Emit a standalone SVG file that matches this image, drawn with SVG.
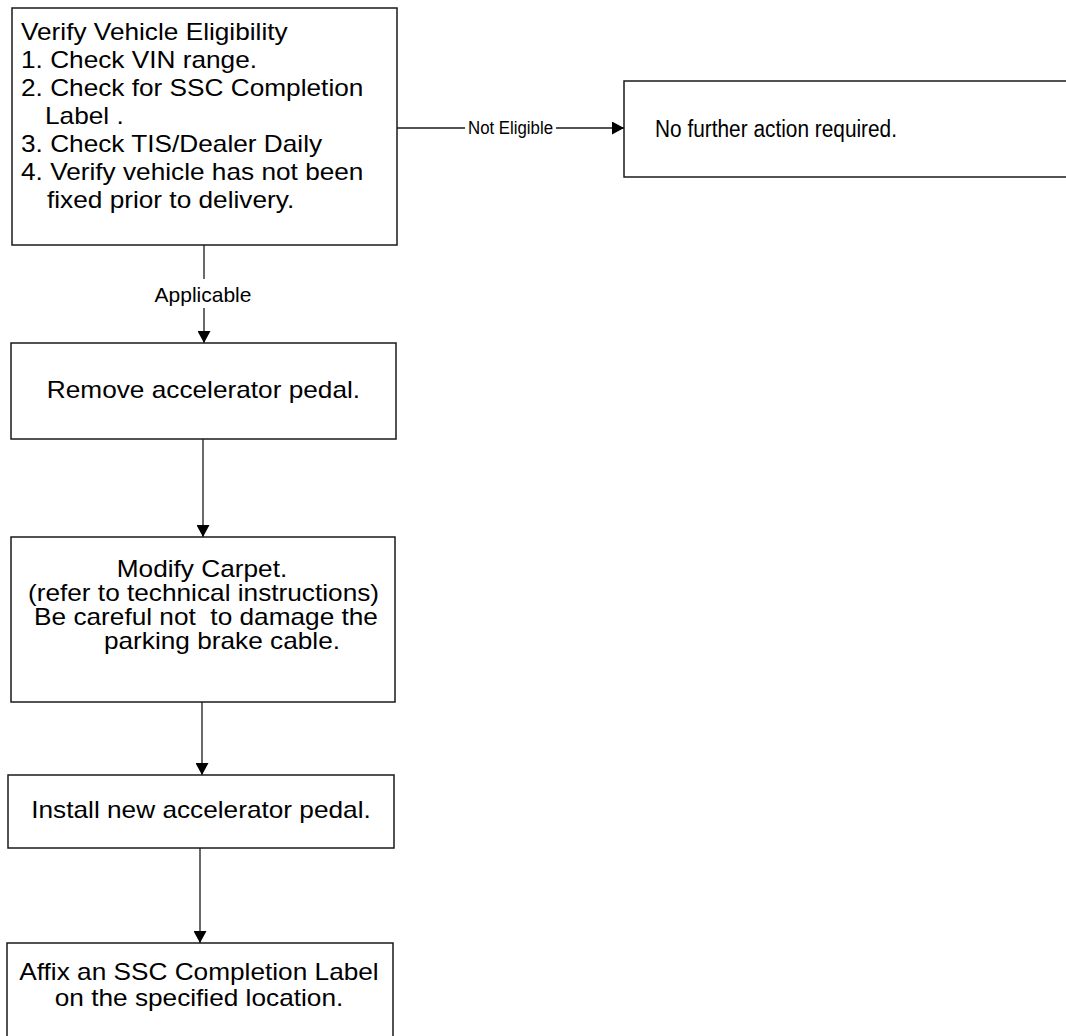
<svg xmlns="http://www.w3.org/2000/svg" width="1066" height="1036" viewBox="0 0 1066 1036">
<style>
.box{fill:#fff;stroke:#1a1a1a;stroke-width:1.5}
.t{font-family:"Liberation Sans",Arial,sans-serif;font-size:23px;fill:#000}
.c{text-anchor:middle}
.lbl{font-family:"Liberation Sans",Arial,sans-serif;fill:#000}
.edge{stroke:#1a1a1a;stroke-width:1.3;fill:none}
</style>
<defs>
<marker id="ah" markerWidth="13" markerHeight="13" refX="12" refY="6.5" orient="auto" markerUnits="userSpaceOnUse">
<path d="M0,0 L12,6.5 L0,13 Z" fill="#000"/>
</marker>
</defs>
<rect width="1066" height="1036" fill="#fff"/>
<g id="connectors">
<line class="edge" x1="397" y1="128" x2="465" y2="128"/>
<line class="edge" x1="556" y1="128" x2="624" y2="128" marker-end="url(#ah)"/>
<text class="lbl" x="468" y="134" font-size="17.5" textLength="85" lengthAdjust="spacingAndGlyphs">Not Eligible</text>
<line class="edge" x1="204" y1="245" x2="204" y2="279"/>
<line class="edge" x1="204" y1="308" x2="204" y2="343" marker-end="url(#ah)"/>
<text class="lbl" x="203" y="302" font-size="21" text-anchor="middle">Applicable</text>
<line class="edge" x1="203" y1="439" x2="203" y2="537" marker-end="url(#ah)"/>
<line class="edge" x1="202" y1="702" x2="202" y2="775" marker-end="url(#ah)"/>
<line class="edge" x1="200" y1="848" x2="200" y2="943" marker-end="url(#ah)"/>
</g>
<g id="verify">
<rect class="box" x="12" y="8" width="385" height="237"/>
<g transform="scale(1.14,1)">
<text class="t" x="18.42" y="40">Verify Vehicle Eligibility</text>
<text class="t" x="18.42" y="68">1. Check VIN range.</text>
<text class="t" x="18.42" y="96">2. Check for SSC Completion</text>
<text class="t" x="39.47" y="124">Label .</text>
<text class="t" x="18.42" y="152">3. Check TIS/Dealer Daily</text>
<text class="t" x="18.42" y="180">4. Verify vehicle has not been</text>
<text class="t" x="41.23" y="208">fixed prior to delivery.</text>
</g>
</g>
<g id="no-action">
<rect class="box" x="624" y="81" width="450" height="96"/>
<text class="t" x="655" y="137" textLength="242" lengthAdjust="spacingAndGlyphs">No further action required.</text>
</g>
<g id="remove">
<rect class="box" x="11" y="343" width="385" height="96"/>
<text class="t c" transform="scale(1.14,1)" x="178.51" y="398">Remove accelerator pedal.</text>
</g>
<g id="modify">
<rect class="box" x="11" y="537" width="384" height="165"/>
<g transform="scale(1.14,1)">
<text class="t c" x="177.19" y="577">Modify Carpet.</text>
<text class="t c" x="178.51" y="601">(refer to technical instructions)</text>
<text class="t c" x="180.70" y="625" xml:space="preserve">Be careful not  to damage the</text>
<text class="t c" x="194.74" y="649">parking brake cable.</text>
</g>
</g>
<g id="install">
<rect class="box" x="8" y="775" width="386" height="73"/>
<text class="t c" transform="scale(1.14,1)" x="176.32" y="818">Install new accelerator pedal.</text>
</g>
<g id="affix">
<rect class="box" x="7" y="943" width="386" height="100"/>
<g transform="scale(1.14,1)">
<text class="t c" x="174.56" y="980">Affix an SSC Completion Label</text>
<text class="t c" x="174.56" y="1006">on the specified location.</text>
</g>
</g>
</svg>
